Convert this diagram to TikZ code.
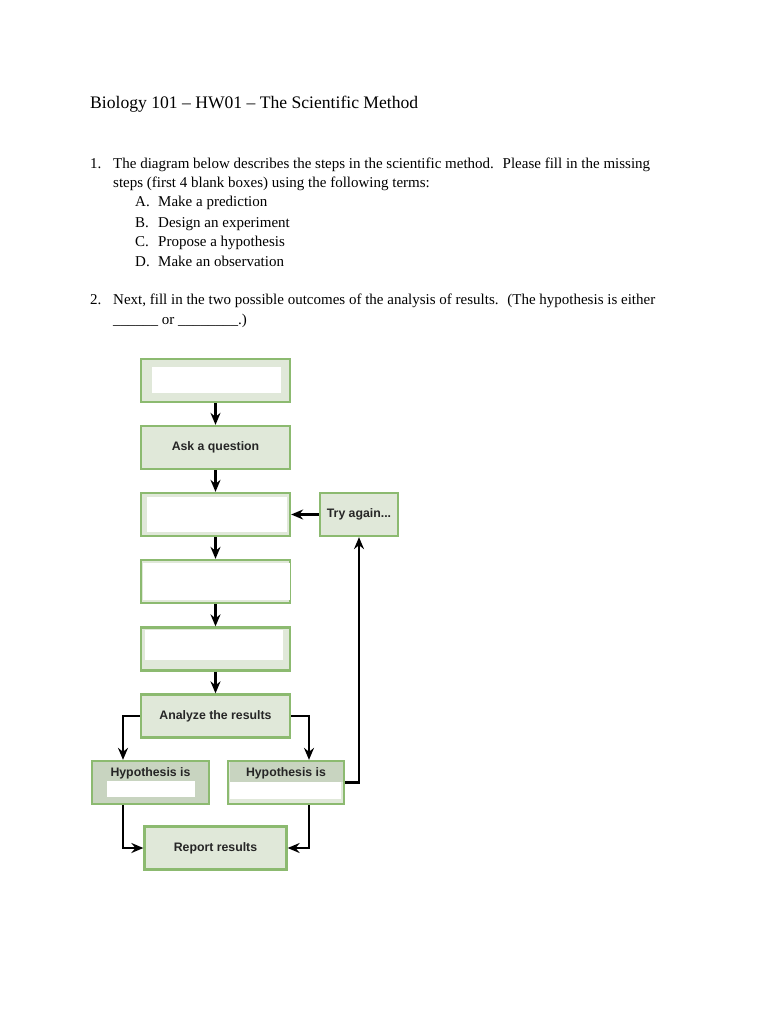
\documentclass[tikz,border=0pt]{standalone}
\usepackage{fontspec}
\setmainfont{Liberation Serif}
\newfontfamily\diag{Liberation Sans}
\usetikzlibrary{arrows.meta}
\definecolor{bord}{HTML}{8CBA70}
\definecolor{boxfill}{HTML}{E0E8D9}
\definecolor{darkfill}{HTML}{C8D4C0}
\begin{document}
\begin{tikzpicture}[x=1pt,y=-1pt,
  box/.style={draw=bord, line width=2.3pt, fill=boxfill, inner sep=0pt, minimum width=149pt, minimum height=43pt},
  lbl/.style={font=\diag\bfseries\fontsize{12.3}{14}\selectfont, text=black!85, inner sep=0pt},
  arr/.style={-{Stealth[length=12pt,width=10pt,inset=4pt]}, line width=2.4pt},
  body/.style={anchor=base west, inner sep=0pt, font=\fontsize{15}{18}\selectfont}
]
\useasboundingbox (0,0) rectangle (768,1024);
\fill[white] (0,0) rectangle (768,1024);

% texts
\node[anchor=base west, inner sep=0pt, font=\fontsize{17.6}{20}\selectfont] (title) at (90,109) {Biology 101 – HW01 – The Scientific Method};
\node[body] (n1) at (90,169) {1.};
\node[body] (q1a) at (113,169) {The diagram below describes the steps in the scientific method.~ Please fill in the missing};
\node[body] (q1b) at (113,188) {steps (first 4 blank boxes) using the following terms:};
\node[body] (la) at (135,207) {A.};
\node[body] (ta) at (158,207) {Make a prediction};
\node[body] (lb) at (135,227) {B.};
\node[body] (tb) at (158,227) {Design an experiment};
\node[body] (lc) at (135,246) {C.};
\node[body] (tc) at (158,246) {Propose a hypothesis};
\node[body] (ld) at (135,266) {D.};
\node[body] (td) at (158,266) {Make an observation};
\node[body] (n2) at (90,304) {2.};
\node[body] (q2a) at (113,304) {Next, fill in the two possible outcomes of the analysis of results.~ (The hypothesis is either};
\node[body] (q2b) at (113,324) {\_\_\_\_\_\_ or \_\_\_\_\_\_\_\_.)};

% boxes
\node[box] (b1) at (215.5,380.5) {};
\node[box] (b2) at (215.5,447.5) {};
\node[box] (b3) at (215.5,514.5) {};
\node[box] (b4) at (215.5,581.5) {};
\node[box] (b5) at (215.5,649) {};
\node[box] (an) at (215.5,716) {};
\node[box, minimum width=142pt] (rp) at (215.5,848) {};
\node[box, minimum width=78pt] (try) at (359,514.5) {};
\node[box, fill=darkfill, minimum width=117pt] (hl) at (150.5,782.5) {};
\node[box, minimum width=116pt] (hr) at (286,782.5) {};

% inner white blanks
\fill[white] (152,367) rectangle (281,393);
\fill[white] (147,497) rectangle (287,532);
\fill[white] (143,563) rectangle (289.5,600);
\fill[white] (145,630) rectangle (283,660);
\fill[darkfill] (229.5,761.5) rectangle (342.6,782);
\fill[white] (107,781) rectangle (195,797);
\fill[white] (230,782) rectangle (341,799);

% labels
\node[lbl] (l2) at (b2) {Ask a question};
\node[lbl] (lan) at (an) {Analyze the results};
\node[lbl] (lrp) at (rp) {Report results};
\node[lbl] (ltry) at (try) {Try again...};
\node[lbl] (lhl) at (150.5,773.5) {Hypothesis is};
\node[lbl] (lhr) at (286,773.5) {Hypothesis is};

% connectors
\draw[arr] (b1.south) -- (b2.north);
\draw[arr] (b2.south) -- (b3.north);
\draw[arr] (b3.south) -- (b4.north);
\draw[arr] (b4.south) -- (b5.north);
\draw[arr] (b5.south) -- (an.north);
\draw[arr] (an.west) -| ([xshift=-27.5pt]hl.north);
\draw[arr] (an.east) -| ([xshift=23pt]hr.north);
\draw[arr] ([xshift=-27.5pt]hl.south) |- (rp.west);
\draw[arr] ([xshift=23pt]hr.south) |- (rp.east);
\draw[arr] (hr.east) -| (try.south);
\draw[arr] (try.west) -- (b3.east);
\end{tikzpicture}
\end{document}
